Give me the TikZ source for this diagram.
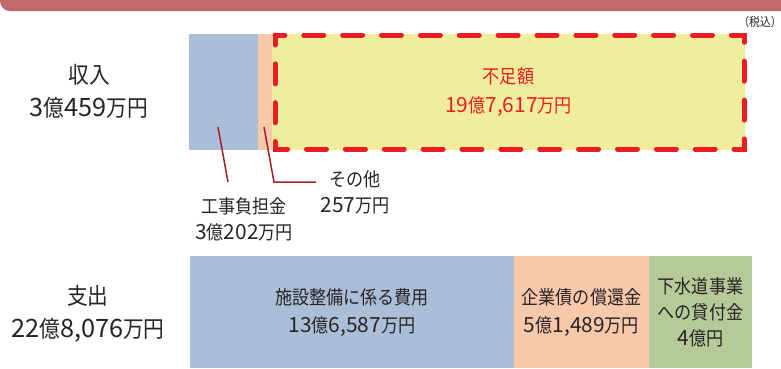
\documentclass[tikz,border=0pt]{standalone}
\usepackage{fontspec}
\setmainfont{Noto Sans CJK JP}[FakeStretch=0.9]
\newfontfamily\numfont{Noto Sans CJK JP}[Scale=1.1]
\newcommand\nm[1]{{\numfont #1}}
\definecolor{topbar}{RGB}{193,105,107}
\definecolor{barblue}{RGB}{170,191,215}
\definecolor{barpeach}{RGB}{248,200,170}
\definecolor{baryellow}{RGB}{240,238,156}
\definecolor{bargreen}{RGB}{181,202,150}
\definecolor{fred}{RGB}{237,28,36}
\definecolor{leadred}{RGB}{165,30,40}
\definecolor{txt}{RGB}{40,36,37}
\begin{document}
\begin{tikzpicture}[x=1pt, y=-1pt,
	bar/.style={inner sep=0pt, outer sep=0pt, anchor=north west, align=center, text=txt, minimum height=112pt, font=\fontsize{19}{28}\selectfont},
	big/.style={align=center, text=txt, font=\fontsize{23}{33}\selectfont},
	small/.style={align=center, text=txt, font=\fontsize{19}{26}\selectfont},
	leader/.style={draw=leadred, line width=1.5pt}]
	\useasboundingbox (0,0) rectangle (781,368);
	% Header
	\fill [color=topbar, rounded corners=10pt] (0,-12) rectangle (795,11);
	\node [font=\fontsize{12}{14}\selectfont, text=txt] (zei) at (760,22) {（税込）};
	% Income
	\node [big] (income) at (89,91) {収入\\\nm{3}億\nm{459}万円};
	\node [bar, fill=barblue, minimum width=69pt, minimum height=116pt] (koujibar) at (189,34) {};
	\node [bar, fill=barpeach, minimum width=14pt, minimum height=116pt] (sonotabar) at (258,34) {};
	\node [bar, fill=baryellow, minimum width=473pt, minimum height=116pt, text=fred, font=\fontsize{19}{29}\selectfont] (fusoku) at (272,34) {不足額\\\nm{19}億\nm{7,617}万円};
	\draw [color=fred, line width=5pt, dash pattern=on 20pt off 18.87pt, dash phase=10pt, line cap=round] (275,35) rectangle (744,149);
	% Leaders
	\coordinate (k1) at (218,127);
	\coordinate (k2) at (228,182);
	\coordinate (s1) at (264,127);
	\coordinate (s2) at (274,182);
	\coordinate (s3) at (316,182);
	\draw [leader] (k1) -- (k2);
	\draw [leader] (s1) -- (s2) -- (s3);
	\node [small] (kouji) at (244,219) {工事負担金\\\nm{3}億\nm{202}万円};
	\node [small] (sonota) at (355,192) {その他\\\nm{257}万円};
	% Expense
	\node [big] (expense) at (88,314) {支出\\\nm{22}億\nm{8,076}万円};
	\node [bar, fill=barblue, minimum width=324pt] (shisetsu) at (190,256) {施設整備に係る費用\\\nm{13}億\nm{6,587}万円};
	\node [bar, fill=barpeach, minimum width=135pt] (saiken) at (514,256) {企業債の償還金\\\nm{5}億\nm{1,489}万円};
	\node [bar, fill=bargreen, minimum width=103pt, font=\fontsize{19}{26}\selectfont] (kashitsuke) at (649,256) {下水道事業\\への貸付金\\\nm{4}億円};
\end{tikzpicture}
\end{document}
